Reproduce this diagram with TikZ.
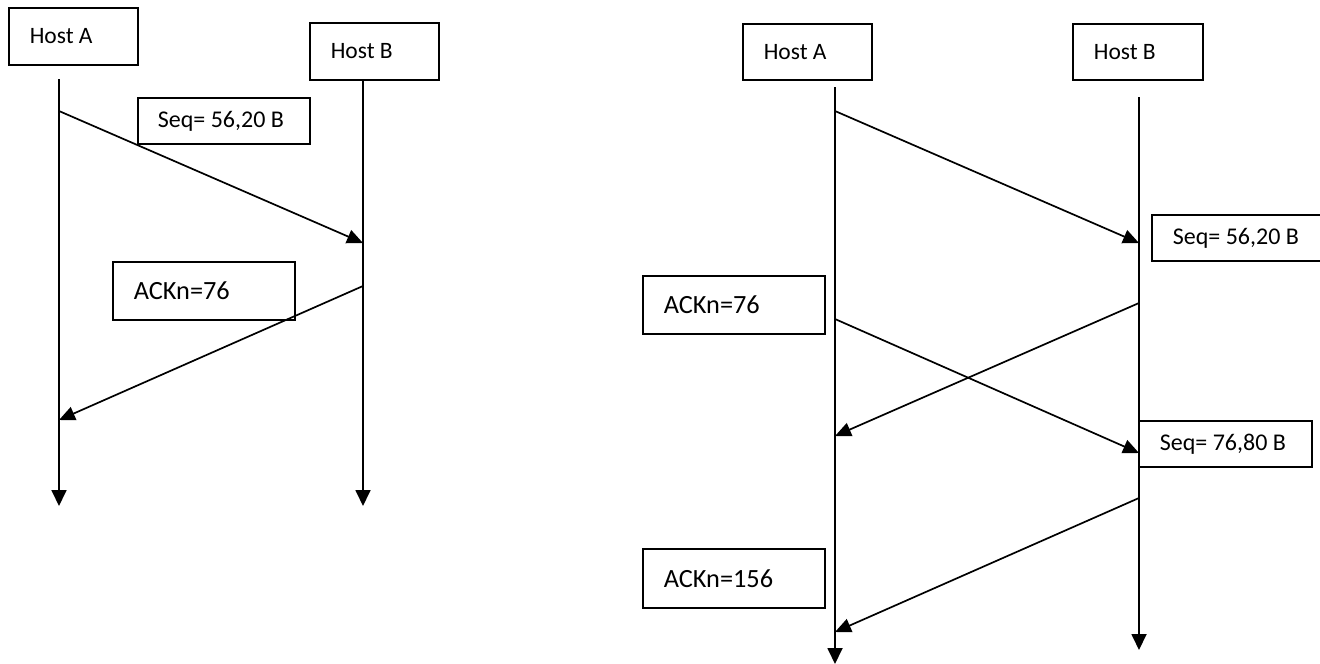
\documentclass[tikz,border=0pt]{standalone}
\usepackage{fontspec}
\setmainfont{Carlito}
\usetikzlibrary{arrows.meta}
\tikzset{
  box/.style={draw, line width=1.7pt, anchor=north west, inner xsep=21pt, inner ysep=0pt,
              font=\fontsize{23.5}{26}\selectfont},
  hostbox/.style={box},
  seqbox/.style={box, font=\fontsize{24}{27}\selectfont},
  ackbox/.style={box, font=\fontsize{26.3}{29}\selectfont},
  life/.style={line width=1.8pt, -{Triangle[length=16pt,width=15pt]}},
  msg/.style={line width=1.7pt, -{Triangle[length=16pt,width=14pt]}}
}
% left-aligned label of a fixed width inside a box
\newcommand{\boxtext}[2]{\makebox[#1][l]{#2}}
\begin{document}
\begin{tikzpicture}[x=1pt,y=-1pt]
\useasboundingbox (0,0) rectangle (1320,664);
\clip (0,0) rectangle (1320,664);

% ---- first exchange: one segment and its acknowledgement ----
\node[hostbox, minimum height=57pt] (hostA1) at (8,7) {\boxtext{87pt}{Host A}};
\node[hostbox, minimum height=57pt] (hostB1) at (309,22) {\boxtext{87pt}{Host B}};
\node[seqbox, inner xsep=20pt, minimum height=46pt] (seq1) at (137,97) {\boxtext{132pt}{Seq= 56,20 B}};
\node[ackbox, minimum height=58pt] (ack1) at (112,261) {\boxtext{140pt}{ACKn=76}};

\coordinate (a1top) at (59,79);
\coordinate (a1end) at (59,506);
\coordinate (b1top) at (363,80);
\coordinate (b1end) at (363,506);
\draw[life] (a1top) -- (a1end);
\draw[life] (b1top) -- (b1end);

\coordinate (a1s) at (59,111);
\coordinate (b1r) at (363,243);
\coordinate (b1s) at (363,286);
\coordinate (a1r) at (59,420);
\draw[msg] (a1s) -- (b1r);
\draw[msg] (b1s) -- (a1r);

% ---- second exchange: two segments, crossing acknowledgement ----
\node[hostbox, minimum height=56pt] (hostA2) at (742,23) {\boxtext{87pt}{Host A}};
\node[hostbox, minimum height=56pt] (hostB2) at (1072,23) {\boxtext{88pt}{Host B}};
\node[seqbox, minimum height=46pt] (seq2) at (1151,214) {\boxtext{148pt}{Seq= 56,20 B}};
\node[ackbox, minimum height=58pt] (ack2) at (642,275) {\boxtext{140pt}{ACKn=76}};
\node[seqbox, minimum height=46pt] (seq3) at (1138,420) {\boxtext{131pt}{Seq= 76,80 B}};
\node[ackbox, minimum height=59pt] (ack3) at (642,548) {\boxtext{140pt}{ACKn=156}};

\coordinate (a2top) at (835,87);
\coordinate (a2end) at (835,664);
\coordinate (b2top) at (1139,97);
\coordinate (b2end) at (1139,650);
\draw[life] (a2top) -- (a2end);
\draw[life] (b2top) -- (b2end);

\coordinate (a2s1) at (835,111);
\coordinate (b2r1) at (1139,243);
\coordinate (b2s1) at (1139,303);
\coordinate (a2r1) at (835,436);
\coordinate (a2s2) at (835,319);
\coordinate (b2r2) at (1139,453);
\coordinate (b2s2) at (1139,498);
\coordinate (a2r2) at (835,632);
\draw[msg] (a2s1) -- (b2r1);
\draw[msg] (b2s1) -- (a2r1);
\draw[msg] (a2s2) -- (b2r2);
\draw[msg] (b2s2) -- (a2r2);
\end{tikzpicture}
\end{document}
